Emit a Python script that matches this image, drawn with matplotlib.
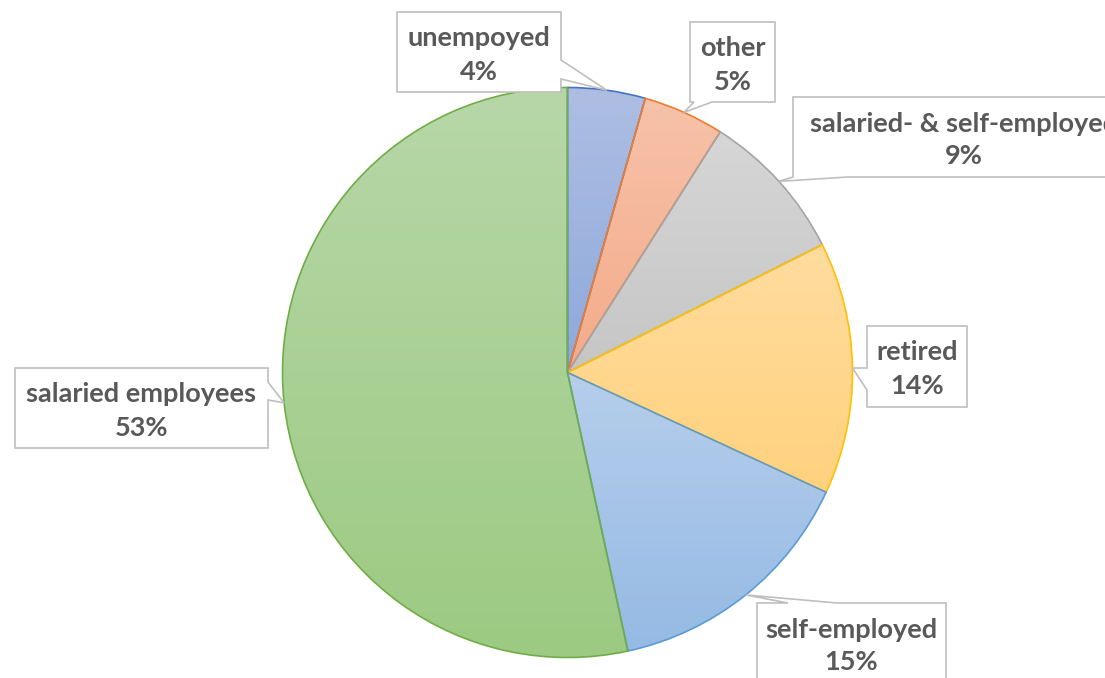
import numpy as np
import matplotlib
matplotlib.use("Agg")
import matplotlib.pyplot as plt
from matplotlib.patches import Polygon

# ---- data ----
categories = ["unempoyed", "other", "salaried- & self-employed", "retired",
              "self-employed", "salaried employees"]
shares = [4.4, 4.6, 8.6, 14.3, 14.7, 53.4]
edge_colors = ["#4472C4", "#ED7D31", "#A5A5A5", "#FFC000", "#5B9BD5", "#70AD47"]
top_colors = ["#AEBEE3", "#F7C2AA", "#D6D6D6", "#FFDC9E", "#B6CEEC", "#B7D7A8"]
bottom_colors = ["#8EA9DB", "#F4AB89", "#C6C6C6", "#FFD27E", "#95BAE4", "#9CCA82"]

W, H = 1105, 678
fig = plt.figure(figsize=(W / 100, H / 100), dpi=100)
ax = fig.add_axes([0, 0, 1, 1])

cx, cy, R = 567.5, H - 372.5, 285

wedges, _ = ax.pie(shares, startangle=90, counterclock=False, center=(cx, cy),
                   radius=R, wedgeprops=dict(linewidth=1.2))
ax.set_xlim(0, W)
ax.set_ylim(0, H)
ax.set_aspect("equal")
ax.axis("off")

for w, ec, tc, bc in zip(wedges, edge_colors, top_colors, bottom_colors):
    bb = w.get_path().get_extents()
    c0 = np.array(matplotlib.colors.to_rgb(bc))
    c1 = np.array(matplotlib.colors.to_rgb(tc))
    t = np.linspace(0, 1, 256)[:, None, None]
    grad = c0 * (1 - t) + c1 * t
    im = ax.imshow(grad, extent=(bb.x0, bb.x1, bb.y0, bb.y1), origin="lower",
                   aspect="auto", interpolation="bilinear", zorder=1)
    im.set_clip_path(w)
    w.set_facecolor("none")
    w.set_edgecolor(ec)
    w.set_zorder(2)

ax.set_xlim(0, W)
ax.set_ylim(0, H)

# ---- callout label layout (pixel coords, y from top) ----
boxes = [
    ((397, 12, 561, 92), "right", (60, 79)),
    ((690, 22, 775, 102), "bottom", (694, 712)),
    ((793, 97, 1135, 177), "bottom", (793, 848)),
    ((867, 326, 967, 407), "left", (368, 390)),
    ((757, 603, 946, 700), "top", (788, 837)),
    ((15, 368, 268, 448), "right", (382, 400)),
]

cum = np.cumsum([0] + shares)
total = cum[-1]
for i, (name, val) in enumerate(zip(categories, shares)):
    mid = (cum[i] + cum[i + 1]) / 2 / total * 2 * np.pi
    tipx = cx + R * np.sin(mid)
    tipy = cy + R * np.cos(mid)
    (x0, y0, x1, y1), side, (b0, b1) = boxes[i]
    Y0, Y1 = H - y0, H - y1
    tl, tr, br, bl = (x0, Y0), (x1, Y0), (x1, Y1), (x0, Y1)
    tip = (tipx, tipy)
    if side == "right":
        pts = [tl, tr, (x1, H - b0), tip, (x1, H - b1), br, bl]
    elif side == "left":
        pts = [tl, tr, br, bl, (x0, H - b1), tip, (x0, H - b0)]
    elif side == "bottom":
        pts = [tl, tr, br, (b1, Y1), tip, (b0, Y1), bl]
    else:
        pts = [tl, (b0, Y0), tip, (b1, Y0), tr, br, bl]
    poly = Polygon(pts, closed=True, facecolor="white", edgecolor="#BFBFBF",
                   linewidth=1.2, zorder=3, clip_on=False)
    ax.add_patch(poly)
    ax.text((x0 + x1) / 2, H - (y0 + 43), f"{name}\n{round(val)}%",
            ha="center", va="center", fontsize=19.5, fontweight="bold",
            color="#595959", family="Lato", linespacing=1.45, zorder=4)

fig.savefig("out.png", dpi=100)
